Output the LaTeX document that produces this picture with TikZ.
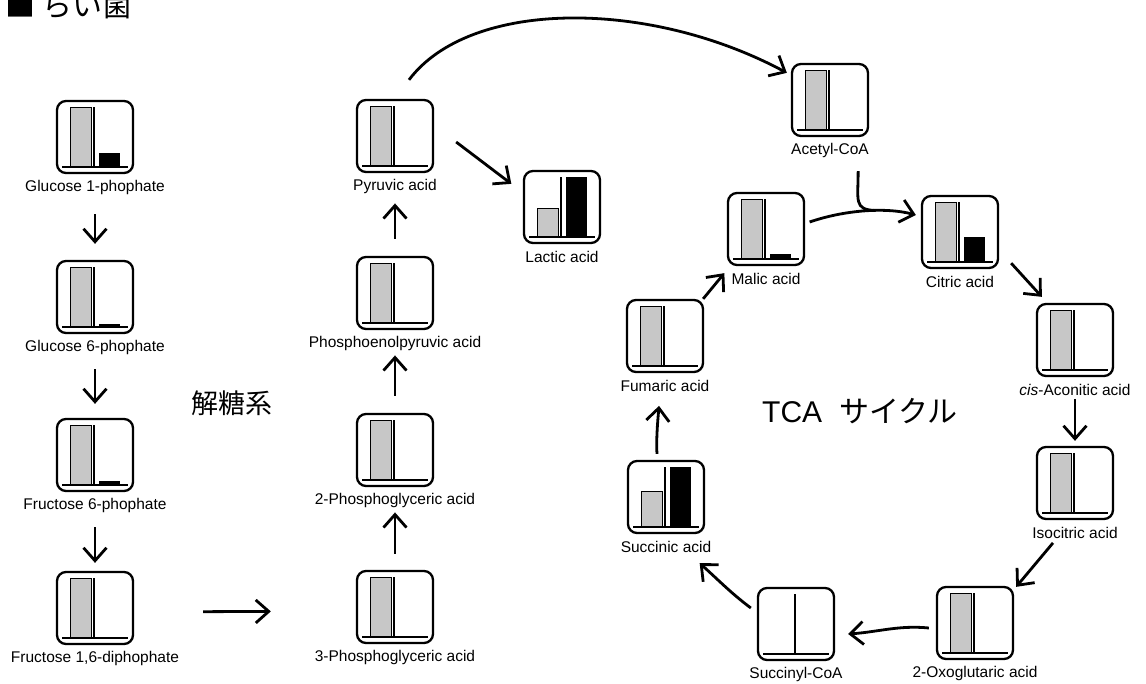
\documentclass[tikz,border=0pt]{standalone}
\usepackage{fontspec}
\setmainfont{Liberation Sans}
\newfontfamily\jafont{Noto Sans CJK JP}
\usetikzlibrary{arrows.meta}

\tikzset{
  cbox/.style={draw, line width=2.3pt, rounded corners=9pt, minimum width=76pt,
    minimum height=72pt, inner sep=0pt},
  lbl/.style={font=\fontsize{15.5}{17}\selectfont, inner sep=0pt},
  arr/.style={line width=2.8pt, -{Straight Barb[length=13pt,width=23pt]}},
  plainline/.style={line width=2.8pt},
  stip/.style={draw, line width=0.6pt, fill=black!22},
}

% metabolite panel: name, x, label y, label, control-bar fraction, sample-bar fraction
\newcommand\metab[6]{%
  \node[cbox] (#1) at (#2,#3-50) {};
  \node[lbl] (#1-l) at (#2,#3) {#4};
  \begin{scope}[shift={(#1.center)}]
    \ifdim#5pt>0pt \draw[stip] (-25,30) rectangle (-4,30-60*#5);\fi
    \ifdim#6pt>0pt \fill (4,30) rectangle (25,30-60*#6);\fi
    \draw[line width=1.3pt] (-1,30) -- (-1,-30);
    \draw[line width=2.2pt] (-33,30) -- (33,30);
  \end{scope}
}

\begin{document}
\begin{tikzpicture}[x=1pt, y=-1pt]
\fill[white] (0,0) rectangle (1146,684);
\useasboundingbox (0,0) rectangle (1146,684);

\node[font=\jafont\fontsize{30}{32}\selectfont, inner sep=0pt, anchor=base west]
  (title) at (5,17) {■\hspace{7pt}らい菌};

% glycolysis
\metab{glc1}{95}{187}{Glucose 1-phophate}{1}{0.24}
\metab{glc6}{95}{347}{Glucose 6-phophate}{1}{0.05}
\metab{fru6}{95}{505}{Fructose 6-phophate}{1}{0.06}
\metab{fru16}{95}{658}{Fructose 1,6-diphophate}{1}{0}
\metab{pyr}{395}{186}{Pyruvic acid}{1}{0}
\metab{pep}{395}{343}{Phosphoenolpyruvic acid}{1}{0}
\metab{pga2}{395}{500}{2-Phosphoglyceric acid}{1}{0}
\metab{pga3}{395}{657}{3-Phosphoglyceric acid}{1}{0}
\metab{lac}{562}{257}{Lactic acid}{0.48}{1}

% TCA cycle
\metab{acoa}{830}{150}{Acetyl-CoA}{1}{0}
\metab{cit}{960}{282}{Citric acid}{1}{0.42}
\metab{mal}{766}{279}{Malic acid}{1}{0.09}
\metab{acn}{1075}{390}{\textit{cis}-Aconitic acid}{1}{0}
\metab{icit}{1075}{533}{Isocitric acid}{1}{0}
\metab{oxo}{975}{673}{2-Oxoglutaric acid}{1}{0}
\metab{scoa}{796}{674}{Succinyl-CoA}{0}{0}
\metab{succ}{666}{547}{Succinic acid}{0.6}{1}
\metab{fum}{665}{386}{Fumaric acid}{1}{0}

\node[font=\jafont\fontsize{27}{30}\selectfont, inner sep=0pt] (glyc) at (232,403) {解糖系};
\node[font=\fontsize{30}{34}\selectfont, inner sep=0pt, anchor=base west]
  (tca) at (762,423) {TCA\hspace{17pt}{\jafont サイクル}};

% glycolysis arrows
\draw[arr, shorten <=20pt, shorten >=16pt] (glc1-l) -- (glc6);
\draw[arr, shorten <=15pt, shorten >=14pt] (glc6-l) -- (fru6);
\draw[arr, shorten <=15pt, shorten >=8pt] (fru6-l) -- (fru16);
\draw[arr, shorten <=69pt, shorten >=85pt] ([yshift=-4pt]fru16.east) -- ([yshift=-4pt]pga3.west);
\draw[arr, shorten <=16pt, shorten >=5pt] (pga3) -- (pga2-l);
\draw[arr, shorten <=17pt, shorten >=5pt] (pga2) -- (pep-l);
\draw[arr, shorten <=17pt, shorten >=10pt] (pep) -- (pyr-l);
\draw[arr] ([xshift=22pt,yshift=-6pt]pyr.east) -- ([xshift=-11.5pt,yshift=-14pt]lac.north west);
\draw[arr] ([xshift=14pt,yshift=19pt]pyr.north) .. controls +(61,-81) and +(-138,-74)
  .. ([xshift=-4pt,yshift=-10pt]acoa.north west);

% TCA arrows
\draw[arr] ([xshift=4.5pt,yshift=7pt]mal.east) .. controls +(35,-12) and +(-30,-8)
  .. ([xshift=-5pt,yshift=17pt]cit.west) coordinate[pos=0.6] (merge);
\draw[plainline] ([xshift=-11pt,yshift=-34pt]acoa.south east) .. controls +(0,30) and +(-22,-1) .. (merge);
\draw[arr] ([xshift=12pt,yshift=6pt]cit.south east) -- ([xshift=6pt,yshift=6pt]acn.north west);
\draw[arr, shorten <=3pt, shorten >=5pt] (acn-l) -- (icit);
\draw[arr] ([xshift=-22pt,yshift=-4pt]icit-l.south) -- ([xshift=2pt,yshift=-1pt]oxo.north east);
\draw[arr] ([xshift=-7pt,yshift=-5pt]oxo.west) .. controls +(-30,-3) and +(30,-2)
  .. ([xshift=13pt,yshift=-10pt]scoa.east);
\draw[arr] ([xshift=-6pt,yshift=16pt]scoa.west) .. controls +(-20,-15) and +(20,18)
  .. ([xshift=-5.5pt,yshift=-29pt]succ.south east);
\draw[arr] ([xshift=-9pt,yshift=6pt]succ.north) .. controls +(-1,-15) and +(-1,12)
  .. ([xshift=-6pt,yshift=-14pt]fum-l.south);
\draw[arr] ([xshift=-1pt]fum.north east) -- ([xshift=-2.5pt,yshift=-7pt]mal.south west);
\end{tikzpicture}
\end{document}
